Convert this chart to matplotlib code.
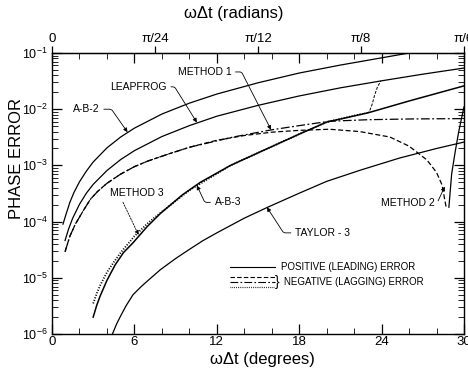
import numpy as np
import matplotlib.pyplot as plt
from matplotlib.ticker import MultipleLocator, LogLocator, NullFormatter, FixedLocator

plt.rcParams['font.family'] = ['Liberation Sans', 'DejaVu Sans']
plt.rcParams['mathtext.default'] = 'regular'

# omega*dt in degrees -> phase error
ab2_x = [0.8, 1.0, 1.3, 1.6, 2, 2.5, 3, 4, 5, 6, 8, 10, 12, 15, 18, 21, 24, 26, 28]
ab2_y = [9.0e-5, 1.3e-4, 2.2e-4, 3.3e-4, 5.1e-4, 7.9e-4, 1.15e-3, 2.05e-3, 3.2e-3, 4.6e-3,
         8.2e-3, 1.28e-2, 1.86e-2, 2.95e-2, 4.4e-2, 6.1e-2, 8.2e-2, 1.0e-1, 1.2e-1]

leap_x = [0.95, 1.2, 1.5, 2, 2.5, 3, 4, 5, 6, 8, 10, 12, 15, 18, 21, 24, 27, 30]
leap_y = [4.6e-5, 7.3e-5, 1.14e-4, 2.03e-4, 3.2e-4, 4.6e-4, 8.1e-4, 1.27e-3, 1.83e-3, 3.26e-3,
          5.1e-3, 7.5e-3, 1.17e-2, 1.72e-2, 2.4e-2, 3.2e-2, 4.2e-2, 5.4e-2]

ab3_x = [3.0, 3.25, 3.5, 4.0, 4.6, 5.2, 5.9, 6.9, 7.9, 9.5, 10.8, 13, 15.5, 18, 20, 23, 26, 30]
ab3_y = [2.0e-6, 3.2e-6, 4.7e-6, 9.0e-6, 1.7e-5, 2.8e-5, 4.2e-5, 8.0e-5, 1.4e-4, 3.0e-4,
         5.0e-4, 1.0e-3, 1.9e-3, 3.6e-3, 5.9e-3, 8.6e-3, 1.4e-2, 2.6e-2]

m3_x = [3.0, 3.25, 3.5, 4.0, 4.5, 5, 6, 7, 8, 10, 13, 15.5, 18, 20, 22.6]
m3_y = [3.5e-6, 5.2e-6, 7.3e-6, 1.25e-5, 1.9e-5, 2.8e-5, 5.5e-5, 9.5e-5, 1.5e-4, 3.6e-4,
        1.0e-3, 1.9e-3, 3.6e-3, 5.9e-3, 8.3e-3]

hook_x = [22.6, 23.1, 23.3, 23.5, 23.7, 23.95]
hook_y = [8.3e-3, 8.9e-3, 1.2e-2, 1.8e-2, 2.5e-2, 3.2e-2]

taylor_x = [4.4, 4.7, 5, 5.4, 5.9, 6.5, 7, 7.9, 9, 10, 11, 12, 14, 15.7, 18, 20, 22.5, 25.3, 28, 30]
taylor_y = [1.0e-6, 1.5e-6, 2.1e-6, 3.2e-6, 5.0e-6, 7.0e-6, 9.0e-6, 1.4e-5, 2.2e-5, 3.2e-5,
            4.6e-5, 6.3e-5, 1.15e-4, 1.8e-4, 3.2e-4, 5.2e-4, 8.3e-4, 1.35e-3, 2.0e-3, 2.6e-3]

m1_x = [0.95, 1.3, 1.7, 2.3, 2.8, 3.3, 4, 5, 6, 7, 8.5, 10, 13.2, 16, 18, 20.2, 23, 26, 30]
m1_y = [2.9e-5, 5.5e-5, 9.0e-5, 1.6e-4, 2.5e-4, 3.4e-4, 4.8e-4, 7.0e-4, 9.5e-4, 1.2e-3,
        1.6e-3, 2.1e-3, 3.2e-3, 4.3e-3, 5.1e-3, 6.1e-3, 6.5e-3, 6.7e-3, 6.8e-3]

m2_x = [0.95, 1.3, 1.7, 2.3, 2.8, 3.3, 4, 5, 6, 7, 8.5, 10, 12, 14, 16, 18, 20.2, 22.4,
        24.6, 26, 27.3, 28, 28.4, 28.7]
m2_y = [2.9e-5, 5.5e-5, 9.0e-5, 1.6e-4, 2.5e-4, 3.4e-4, 4.8e-4, 7.0e-4, 9.5e-4, 1.2e-3,
        1.6e-3, 2.1e-3, 2.8e-3, 3.4e-3, 3.9e-3, 4.2e-3, 4.4e-3, 4.0e-3, 3.2e-3, 2.2e-3,
        1.25e-3, 7.5e-4, 4.5e-4, 1.8e-4]
m2pos_x = [28.9, 29.1, 29.35, 29.6, 29.9, 30]
m2pos_y = [1.8e-4, 7.0e-4, 1.7e-3, 3.8e-3, 8.5e-3, 1.1e-2]

deg_ticks = [0, 6, 12, 18, 24, 30]
rad_ticks = [0, 7.5, 15, 22.5, 30]
rad_labels = ['0', 'π/24', 'π/12', 'π/8', 'π/6']

fig = plt.figure(figsize=(4.68, 3.73), dpi=100)
ax = fig.add_axes([52/468, 39/373, 412/468, 281/373])

k = dict(color='black', lw=0.9)
ax.plot(ab2_x, ab2_y, **k)
ax.plot(leap_x, leap_y, **k)
ax.plot(ab3_x, ab3_y, color='black', lw=1.1)
ax.plot(m3_x, m3_y, color='black', lw=1.3, ls=(0, (0.6, 0.9)))
ax.plot(hook_x, hook_y, color='black', lw=0.7, ls=(0, (3, 1.5)))
ax.plot(taylor_x, taylor_y, **k)
ax.plot(m1_x, m1_y, color='black', lw=0.9, ls=(0, (7, 2, 1.5, 2)))
ax.plot(m2_x, m2_y, color='black', lw=0.9, ls=(0, (4, 2)))
ax.plot(m2pos_x, m2pos_y, **k)

ax.set_yscale('log')
ax.set_xlim(0, 30)
ax.set_ylim(1e-6, 1e-1)

ax.xaxis.set_major_locator(FixedLocator(deg_ticks))
ax.xaxis.set_minor_locator(MultipleLocator(2))
ax.yaxis.set_major_locator(LogLocator(base=10, numticks=10))
ax.yaxis.set_minor_locator(LogLocator(base=10, subs=np.arange(2, 10), numticks=10))
ax.yaxis.set_minor_formatter(NullFormatter())
ax.tick_params(which='both', direction='in', top=True, right=True, labelsize=9.5)
ax.tick_params(which='major', length=7, width=0.9)
ax.tick_params(which='minor', length=4, width=0.6)
ax.tick_params(axis='y', labelsize=9, pad=3)
ax.tick_params(axis='x', pad=1.5)
for s in ax.spines.values():
    s.set_linewidth(1.0)

secax = ax.secondary_xaxis('top')
secax.set_xticks(rad_ticks, rad_labels)
secax.tick_params(direction='out', length=5, width=0.9, labelsize=9.5, pad=1)

fig.text(0.50, 0.965, 'ωΔt (radians)', ha='center', va='center', fontsize=12)
fig.text(0.56, 0.035, 'ωΔt (degrees)', ha='center', va='center', fontsize=12)
fig.text(0.036, 0.575, 'PHASE ERROR', ha='center', va='center', rotation=90, fontsize=12)

fs = 7.5
ap = dict(arrowstyle='-|>', color='black', lw=0.6, mutation_scale=6, shrinkA=1, shrinkB=0)
ax.annotate('A-B-2', xy=(5.5, 3.9e-3), xytext=(2.5, 1.0e-2), fontsize=fs, ha='center', va='center',
            arrowprops=dict(ap, relpos=(1, 0.5), connectionstyle='angle,angleA=0,angleB=125,rad=2'))
ax.annotate('LEAPFROG', xy=(10.55, 5.8e-3), xytext=(6.3, 2.5e-2), fontsize=fs, ha='center', va='center',
            arrowprops=dict(ap, relpos=(1, 0.5), connectionstyle='angle,angleA=0,angleB=122,rad=2'))
ax.annotate('METHOD 1', xy=(15.95, 4.3e-3), xytext=(11.1, 4.6e-2), fontsize=fs, ha='center', va='center',
            arrowprops=dict(ap, relpos=(1, 0.5), connectionstyle='angle,angleA=0,angleB=117,rad=2'))
ax.annotate('METHOD 3', xy=(6.3, 5.8e-5), xytext=(6.2, 3.2e-4), fontsize=fs, ha='center', va='center',
            arrowprops=dict(ap, relpos=(0.2, 0), ls=(0, (2, 1.5))))
ax.annotate('A-B-3', xy=(10.55, 4.4e-4), xytext=(12.8, 2.2e-4), fontsize=fs, ha='center', va='center',
            arrowprops=dict(ap, relpos=(0, 0.5), connectionstyle='angle,angleA=180,angleB=-65,rad=2'))
ax.annotate('TAYLOR - 3', xy=(15.65, 1.8e-4), xytext=(19.7, 6.3e-5), fontsize=fs, ha='center', va='center',
            arrowprops=dict(ap, relpos=(0, 0.5), connectionstyle='angle,angleA=180,angleB=-57,rad=2'))
ax.annotate('METHOD 2', xy=(28.6, 4.2e-4), xytext=(25.9, 2.15e-4), fontsize=fs, ha='center', va='center',
            arrowprops=dict(ap, relpos=(1, 0.5), connectionstyle='angle,angleA=0,angleB=-115,rad=2'))

# legend, drawn by hand
tr = ax.transAxes
ax.plot([0.432, 0.541], [0.238, 0.238], transform=tr, color='black', lw=0.8)
ax.plot([0.432, 0.541], [0.203, 0.203], transform=tr, color='black', lw=0.8, ls=(0, (4, 2)))
ax.plot([0.432, 0.541], [0.185, 0.185], transform=tr, color='black', lw=0.8, ls=(0, (7, 2, 1.5, 2)))
ax.plot([0.432, 0.541], [0.167, 0.167], transform=tr, color='black', lw=0.9, ls=(0, (0.6, 0.9)))
ax.text(0.556, 0.238, 'POSITIVE (LEADING) ERROR', transform=tr, fontsize=7, va='center')
ax.text(0.542, 0.185, '}', transform=tr, fontsize=10, va='center')
ax.text(0.563, 0.185, 'NEGATIVE (LAGGING) ERROR', transform=tr, fontsize=7, va='center')

fig.savefig('out.png', dpi=100)
